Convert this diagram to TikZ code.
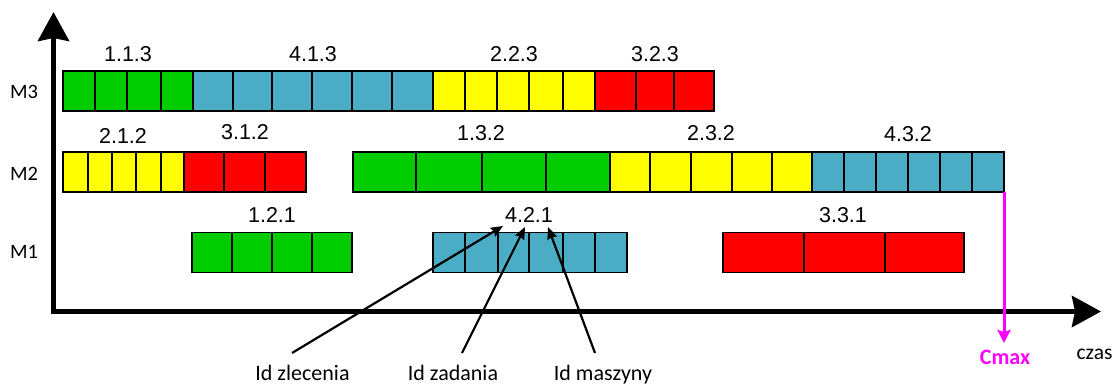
\documentclass[tikz,border=0pt]{standalone}
\usepackage{fontspec}
\setmainfont{Liberation Sans}
\newfontfamily\calibrifont{Carlito}
\usetikzlibrary{arrows.meta}

\definecolor{opgreen}{HTML}{00CC00}
\definecolor{opblue}{HTML}{4BACC6}
\definecolor{opyellow}{HTML}{FFFF00}
\definecolor{opred}{HTML}{FF0000}
\definecolor{cmaxpink}{HTML}{FF00FF}

\tikzset{
  cell/.style={draw=black, line width=1.6pt},
  oplabel/.style={anchor=base, inner sep=0pt, font=\fontsize{21.5}{24}\selectfont},
  machine/.style={anchor=base west, inner sep=0pt, font=\calibrifont\fontsize{20.5}{24}\selectfont},
  note/.style={anchor=base, inner sep=0pt, font=\calibrifont\fontsize{22}{26}\selectfont},
  axis/.style={line width=5pt, line join=miter,
    {Stealth[length=29pt,width=31pt,inset=3pt]}-{Stealth[length=29pt,width=31pt,inset=3pt]}},
  pointer/.style={line width=2.2pt, -{Stealth[length=12pt,width=10pt,inset=1.5pt]}},
  cmaxline/.style={draw=cmaxpink, line width=3pt, -{Stealth[length=13pt,width=13pt,inset=2pt]}},
}

% one run of unit cells on a machine row: #1 top edge, #2 fill, #3 cell edges a/b
\newcommand\taskbar[3]{%
  \foreach \a/\b in {#3}{\draw[cell, fill=#2] (\a,#1) rectangle (\b,#1+40);}}

\begin{document}
\begin{tikzpicture}[x=1pt,y=-1pt]
\useasboundingbox (0,0) rectangle (1115,385);

% time and machine axes
\coordinate (ytop) at (53.5,12);
\coordinate (origin) at (53.5,311.5);
\coordinate (xend) at (1101,311.5);
\draw[axis] (ytop) -- (origin) -- (xend);

% machine names
\node[machine] (m3) at (10,99) {M3};
\node[machine] (m2) at (10,180) {M2};
\node[machine] (m1) at (10,258.5) {M1};

% M3
\taskbar{71}{opgreen}{63/95, 95/127, 127/161, 161/193}
\taskbar{71}{opblue}{193/233, 233/272, 272/312, 312/352, 352/392, 392/433}
\taskbar{71}{opyellow}{433/465, 465/497, 497/529, 529/563, 563/595}
\taskbar{71}{opred}{595/636, 636/674, 674/714}
\node[oplabel] (l113) at (128,62) {1.1.3};
\node[oplabel] (l413) at (313,62) {4.1.3};
\node[oplabel] (l223) at (514,62) {2.2.3};
\node[oplabel] (l323) at (655,62) {3.2.3};

% M2
\taskbar{152}{opyellow}{63/88, 88/112, 112/136, 136/161, 161/184}
\taskbar{152}{opred}{184/224, 224/265, 265/306}
\taskbar{152}{opgreen}{353/416, 416/482, 482/546, 546/610}
\taskbar{152}{opyellow}{610/650, 650/691, 691/732, 732/772, 772/812}
\taskbar{152}{opblue}{812/844, 844/876, 876/908, 908/940, 940/972, 972/1004}
\node[oplabel] (l212) at (123,143) {2.1.2};
\node[oplabel] (l312) at (245,139.5) {3.1.2};
\node[oplabel] (l132) at (481,140) {1.3.2};
\node[oplabel] (l232) at (711,140.5) {2.3.2};
\node[oplabel] (l432) at (908,141.5) {4.3.2};

% M1
\taskbar{232.5}{opgreen}{192/232, 232/272, 272/312, 312/352}
\taskbar{232.5}{opblue}{433/465, 465/498, 498/529, 529/563, 563/595, 595/627}
\taskbar{232.5}{opred}{723/804, 804/885, 885/964}
\node[oplabel] (l121) at (272,222.5) {1.2.1};
\node[oplabel] (l421) at (529,222) {4.2.1};
\node[oplabel] (l331) at (843,222.5) {3.3.1};

% makespan marker
\coordinate (cmaxtop) at (1004,192);
\coordinate (cmaxtip) at (1004,343);
\draw[cmaxline] (cmaxtop) -- (cmaxtip);
\node[note, font=\calibrifont\bfseries\fontsize{22}{26}\selectfont, text=cmaxpink] (cmax) at (1005,364) {Cmax};
\node[note, font=\calibrifont\fontsize{21.5}{26}\selectfont] (czas) at (1094.5,359.5) {czas};

% meaning of the three digits of a label
\node[note] (idz) at (302.5,380) {Id zlecenia};
\node[note] (ida) at (453,380) {Id zadania};
\node[note] (idm) at (603,380) {Id maszyny};
\coordinate (jobtip) at (503,226);
\coordinate (optip) at (525,227);
\coordinate (mtip) at (548,227);
\draw[pointer] ([xshift=-10.5pt,yshift=27pt]idz.base) -- (jobtip);
\draw[pointer] ([xshift=9pt,yshift=27pt]ida.base) -- (optip);
\draw[pointer] ([xshift=-8pt,yshift=27pt]idm.base) -- (mtip);
\end{tikzpicture}
\end{document}
